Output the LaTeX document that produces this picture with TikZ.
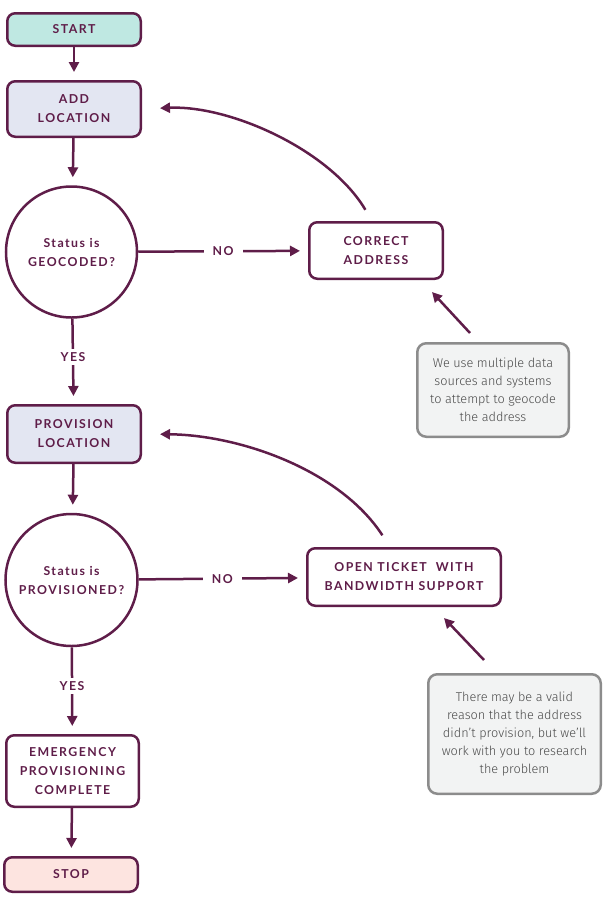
\documentclass[tikz,border=0pt]{standalone}
\usepackage{fontspec}
\usetikzlibrary{arrows.meta,shapes.geometric}
\newfontfamily\lblfont[LetterSpace=12]{Lato}
\newfontfamily\notefont{Fira Sans Light}
\definecolor{plum}{HTML}{5F1D49}
\definecolor{mint}{HTML}{BFE8E2}
\definecolor{lavender}{HTML}{E3E6F2}
\definecolor{blush}{HTML}{FDE4E0}
\definecolor{notefill}{HTML}{F2F3F3}
\definecolor{noteedge}{HTML}{8C8C8C}
\definecolor{notetext}{HTML}{4A4A4A}
\tikzset{
  stepbox/.style={draw=plum, line width=2.5pt, rounded corners=8pt, fill=white,
    text=plum, font=\lblfont\bfseries\fontsize{12.3}{19}\selectfont, align=center},
  decision/.style={draw=plum, line width=2.5pt, circle, fill=white, inner sep=0pt,
    text=plum, font=\lblfont\bfseries\fontsize{12.3}{19}\selectfont, align=center},
  notebox/.style={draw=noteedge, line width=2.5pt, rounded corners=9pt, fill=notefill,
    text=notetext, font=\notefont\fontsize{12.7}{18}\selectfont, align=center},
  flow/.style={draw=plum, line width=2.5pt, -{Triangle[length=10pt,width=10pt]}, shorten >=8pt},
  answer/.style={fill=white, text=plum, inner xsep=9pt, font=\lblfont\bfseries\fontsize{12.3}{14}\selectfont}
}
\begin{document}
\begin{tikzpicture}[x=1pt,y=-1pt]
\useasboundingbox (0,0) rectangle (607,898);

% main column
\node[stepbox, fill=mint, minimum width=133.5pt, minimum height=32.5pt] (start) at (74,29.5) {START};
\node[stepbox, fill=lavender, minimum width=133.5pt, minimum height=55.5pt] (addloc) at (74,109) {ADD\\LOCATION};
\node[decision, minimum size=131pt] (geo) at (71.5,252) {Status is\\GEOCODED?};
\node[stepbox, fill=lavender, minimum width=133.5pt, minimum height=57.5pt] (prov) at (74,434) {PROVISION\\LOCATION};
\node[decision, minimum size=132pt] (provq) at (71.5,580) {Status is\\PROVISIONED?};
\node[stepbox, minimum width=132.5pt, minimum height=71.5pt] (emerg) at (72.5,771) {EMERGENCY\\PROVISIONING\\COMPLETE};
\node[stepbox, fill=blush, minimum width=133.5pt, minimum height=34.5pt] (stop) at (71,874.5) {STOP};

% correction steps
\node[stepbox, minimum width=133.5pt, minimum height=56.5pt] (correct) at (376,250.5) {CORRECT\\ADDRESS};
\node[stepbox, minimum width=193.5pt, minimum height=57.5pt] (ticket) at (404,577) {OPEN TICKET\ \ WITH\\BANDWIDTH SUPPORT};

% notes
\node[notebox, minimum width=151.5pt, minimum height=93.5pt] (note1) at (493,390)
  {We use multiple data\\sources and systems\\to attempt to geocode\\the address};
\node[notebox, minimum width=172.5pt, minimum height=119.5pt] (note2) at (514.5,734)
  {There may be a valid\\reason that the address\\didn’t provision, but we’ll\\work with you to research\\the problem};

% main flow
\draw[flow] (start) -- (addloc);
\draw[flow] (addloc) -- (geo);
\draw[flow] (geo) -- node[answer, pos=0.5] {NO} (correct);
\draw[flow] (geo) -- node[answer, pos=0.45] {YES} (prov);
\draw[flow] (prov) -- (provq);
\draw[flow] (provq) -- node[answer, pos=0.5] {NO} (ticket);
\draw[flow] (provq) -- node[answer, pos=0.45] {YES} (emerg);
\draw[flow] (emerg) -- (stop);

% loops back to the column
\draw[flow, shorten <=13pt, shorten >=18pt] ([xshift=-4pt]correct.north)
  .. controls (330,150) and (230,105) .. (addloc.east);
\draw[flow, shorten <=14pt, shorten >=18pt] ([xshift=-14pt]ticket.north)
  .. controls (340,470) and (240,435) .. (prov.east);

% note pointers
\coordinate (n1a) at (470,333);
\coordinate (n1b) at (432,292);
\coordinate (n2a) at (484,660);
\coordinate (n2b) at (444,618);
\draw[flow, shorten >=0pt] (n1a) -- (n1b);
\draw[flow, shorten >=0pt] (n2a) -- (n2b);
\end{tikzpicture}
\end{document}
